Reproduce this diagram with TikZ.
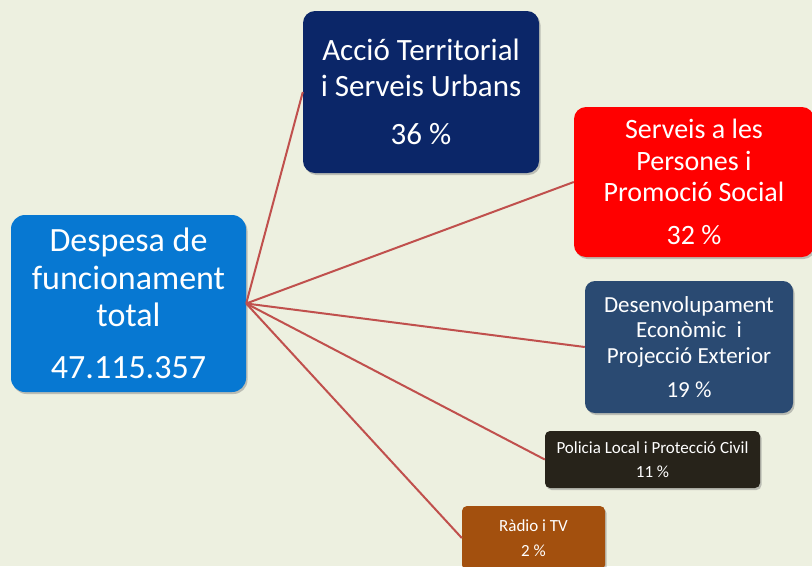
\documentclass[tikz,border=0pt]{standalone}
\usepackage{fontspec}
\setmainfont{Carlito}
\usetikzlibrary{shadows}
\definecolor{paper}{HTML}{EDF0E0}
\definecolor{linkred}{HTML}{C0504D}
\definecolor{totalblue}{HTML}{0778D2}
\definecolor{navy}{HTML}{0B2668}
\definecolor{slateblue}{HTML}{2A4A72}
\definecolor{darkbrown}{HTML}{27231A}
\definecolor{rust}{HTML}{A3500E}
\begin{document}
\begin{tikzpicture}[x=1pt,y=-1pt,
  box/.style={rectangle,rounded corners=8pt,inner sep=0pt,text=white,align=center,
    drop shadow={opacity=0.45,shadow xshift=1.5pt,shadow yshift=-2pt}},
  link/.style={draw=linkred,line width=2pt}]
\path[use as bounding box,fill=paper] (0,0) rectangle (812,566);
\node [box,fill=totalblue,rounded corners=14pt,minimum width=235pt,minimum height=177pt,
  font=\fontsize{34}{37.5}\selectfont] (total) at (128.5,303.5)
  {Despesa de\\funcionament\\total\\[14pt]47.115.357};
\node [box,fill=navy,rounded corners=12pt,minimum width=236pt,minimum height=162pt,
  font=\fontsize{31}{36}\selectfont] (acc) at (421,92)
  {Acció Territorial\\i Serveis Urbans\\[12pt]36 \%};
\node [box,fill=red,rounded corners=12pt,minimum width=240pt,minimum height=150pt,
  font=\fontsize{28}{31.5}\selectfont] (pers) at (694,182)
  {Serveis a les\\Persones i\\Promoció Social\\[11pt]32 \%};
\node [box,fill=slateblue,rounded corners=10pt,minimum width=208pt,minimum height=132pt,
  font=\fontsize{23}{25.5}\selectfont] (des) at (689,347)
  {Desenvolupament\\Econòmic\ \ i\\Projecció Exterior\\[9pt]19 \%};
\node [box,fill=darkbrown,rounded corners=5pt,minimum width=215pt,minimum height=57pt,
  font=\fontsize{17}{24}\selectfont] (pol) at (652.5,459.5)
  {Policia Local i Protecció Civil\\11 \%};
\node [box,fill=rust,rounded corners=5pt,minimum width=143pt,minimum height=64pt,
  font=\fontsize{17}{25}\selectfont] (radio) at (533.5,538)
  {Ràdio i TV\\2 \%};
% connectors
\foreach \n in {acc,pers,des,pol,radio}
  \draw [link] (total.east) -- (\n.west);
\end{tikzpicture}
\end{document}
